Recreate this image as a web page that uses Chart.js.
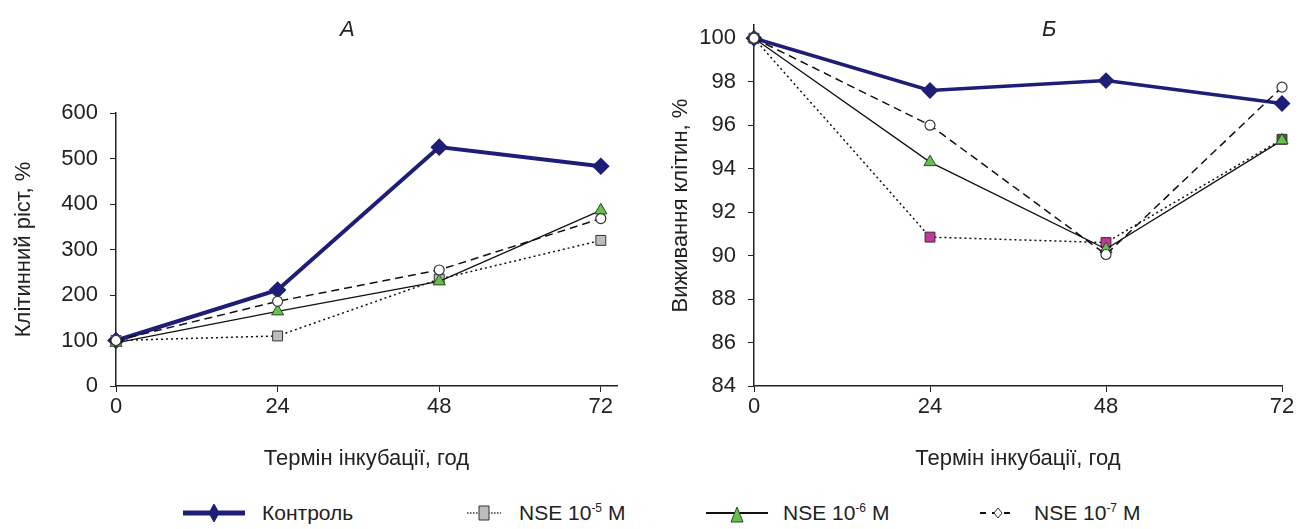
<!DOCTYPE html>
<html lang="uk">
<head>
<meta charset="utf-8">
<title>Клітинний ріст і виживання клітин</title>
<script src="https://cdn.jsdelivr.net/npm/chart.js@4.4.1/dist/chart.umd.min.js"></script>
<style>
  html, body { margin: 0; padding: 0; background: #fff; }
  body { width: 1299px; height: 529px; position: relative; overflow: hidden;
         font-family: "Liberation Sans", Arial, sans-serif; color: #222; }
  .panel { position: absolute; top: 0; height: 480px; }
  #boxA { left: 0; width: 640px; }
  #boxB { left: 640px; width: 659px; }
  .letter { position: absolute; top: 16px; font-size: 22px; font-style: italic; line-height: 26px; }
  .item { position: absolute; top: 500px; height: 26px; font-size: 21px; line-height: 26px; white-space: nowrap; }
  .item canvas { position: absolute; top: 0; }
  .item span { position: absolute; top: 0; }
  sup { font-size: 12px; vertical-align: 8px; line-height: 0; }
</style>
</head>
<body>
<div class="panel" id="boxA"><canvas id="chartA"></canvas></div>
<div class="panel" id="boxB"><canvas id="chartB"></canvas></div>
<div class="letter" style="left:340px">А</div>
<div class="letter" style="left:1042px">Б</div>

<div class="item" style="left:183px"><canvas id="lg0" width="62" height="26"></canvas><span style="left:79px">Контроль</span></div>
<div class="item" style="left:467px"><canvas id="lg1" width="34" height="26"></canvas><span style="left:52px">NSE 10<sup>-5</sup> M</span></div>
<div class="item" style="left:706px"><canvas id="lg2" width="62" height="26"></canvas><span style="left:77px">NSE 10<sup>-6</sup> M</span></div>
<div class="item" style="left:980px"><canvas id="lg3" width="36" height="26"></canvas><span style="left:54px">NSE 10<sup>-7</sup> M</span></div>

<script>
// години інкубації
const hours = [0, 24, 48, 72];
const seriesNames = ['Контроль', 'NSE 10-5 M', 'NSE 10-6 M', 'NSE 10-7 M'];

// А - клітинний ріст, %
const growthControl = [100, 211, 525, 483];
const growthNse5 = [100, 110, 235, 320];
const growthNse6 = [95, 164, 230, 386];
const growthNse7 = [100, 186, 255, 368];

// Б - виживання клітин, %
const survControl = [100, 97.6, 98.05, 97.0];
const survNse5 = [100, 90.85, 90.6, 95.35];
const survNse6 = [100, 94.3, 90.3, 95.3];
const survNse7 = [100, 96.0, 90.05, 97.75];

const growthTicks = [0, 100, 200, 300, 400, 500, 600];
const survTicks = [84, 86, 88, 90, 92, 94, 96, 98, 100];

const NAVY = '#1e1e78';
const INK = '#222';

function pts(vals) {
    return hours.map((h, i) => ({ x: h, y: vals[i] }));
}

// Chart.js малює перший набір зверху: відкриті кружки зверху, контроль знизу
function lineSets(ctrl, n5, n6, n7, sqColor, ctrlWidth) {
    return [
        { label: seriesNames[3], data: pts(n7), borderColor: '#111', borderWidth: 1.5, borderDash: [8, 5],
          pointStyle: 'circle', pointRadius: 5, pointBackgroundColor: '#fff', pointBorderColor: '#333', pointBorderWidth: 1.2 },
        { label: seriesNames[2], data: pts(n6), borderColor: '#111', borderWidth: 1.3,
          pointStyle: 'triangle', pointRadius: 7, pointBackgroundColor: '#66bf4e', pointBorderColor: '#2c4a22', pointBorderWidth: 1 },
        { label: seriesNames[1], data: pts(n5), borderColor: '#111', borderWidth: 1.5, borderDash: [2, 3],
          pointStyle: 'rect', pointRadius: 7, pointBackgroundColor: sqColor, pointBorderColor: '#333', pointBorderWidth: 1 },
        { label: seriesNames[0], data: pts(ctrl), borderColor: NAVY, borderWidth: ctrlWidth,
          pointStyle: 'rectRot', pointRadius: 6, pointBackgroundColor: NAVY, pointBorderColor: NAVY }
    ];
}

const tickFont = { family: '"Liberation Sans", Arial, sans-serif', size: 22 };
const titleFont = { family: '"Liberation Sans", Arial, sans-serif', size: 22 };

function makeChart(id, sets, o) {
    return new Chart(document.getElementById(id), {
        type: 'line',
        data: { datasets: sets },
        options: {
            responsive: true,
            maintainAspectRatio: false,
            animation: false,
            layout: { padding: { top: o.padTop, right: o.padRight, left: 0, bottom: 0 } },
            elements: { line: { tension: 0 } },
            datasets: { line: { clip: false } },
            plugins: { legend: { display: false }, tooltip: { enabled: false } },
            scales: {
                x: {
                    type: 'linear', min: 0, max: o.xMax,
                    afterBuildTicks: s => { s.ticks = hours.map(v => ({ value: v })); },
                    afterFit: s => { s.height = 94; },
                    grid: { drawOnChartArea: false, drawTicks: true, tickLength: 6, color: INK },
                    border: { display: true, color: INK, width: 1.5 },
                    ticks: { color: INK, font: tickFont, padding: 2, maxRotation: 0 },
                    title: { display: true, text: 'Термін інкубації, год', color: INK, font: titleFont,
                             padding: { top: 4, bottom: 8 } }
                },
                y: {
                    min: o.yMin, max: o.yMax,
                    afterBuildTicks: s => { s.ticks = o.yTicks.map(v => ({ value: v })); },
                    afterFit: s => { s.width = o.yWidth; },
                    grid: { drawOnChartArea: false, drawTicks: true, tickLength: 6, color: INK },
                    border: { display: true, color: INK, width: 1.5 },
                    ticks: { color: INK, font: tickFont, padding: 12 },
                    title: { display: true, text: o.yTitle, color: INK, font: titleFont,
                             padding: { top: o.yTitlePad, bottom: 0 } }
                }
            }
        }
    });
}

makeChart('chartA', lineSets(growthControl, growthNse5, growthNse6, growthNse7, '#bdbdbd', 4), {
    padTop: 113, padRight: 23, xMax: 74.4, yMin: 0, yMax: 600, yWidth: 116, yTitlePad: 11,
    yTicks: growthTicks, yTitle: 'Клітинний ріст, %'
});

makeChart('chartB', lineSets(survControl, survNse5, survNse6, survNse7,
    ['#c2379b', '#c2379b', '#c2379b', '#5e5236'], 3.5), {
    padTop: 22, padRight: 17, xMax: 72, yMin: 84, yMax: 100.6, yWidth: 114, yTitlePad: 28,
    yTicks: survTicks, yTitle: 'Виживання клітин, %'
});

// легенда
function legendIcon(id, line, width, dash, marker) {
    const c = document.getElementById(id);
    const ctx = c.getContext('2d');
    const w = c.width, cy = c.height / 2, cx = w / 2;
    ctx.strokeStyle = line;
    ctx.lineWidth = width;
    ctx.setLineDash(dash);
    ctx.beginPath(); ctx.moveTo(0, cy); ctx.lineTo(w, cy); ctx.stroke();
    ctx.setLineDash([]);
    ctx.fillStyle = marker.fill;
    ctx.strokeStyle = marker.stroke;
    ctx.lineWidth = 1;
    ctx.beginPath();
    if (marker.type === 'diamond') {
        ctx.moveTo(cx, cy - 9); ctx.lineTo(cx + 5, cy); ctx.lineTo(cx, cy + 9); ctx.lineTo(cx - 5, cy); ctx.closePath();
    } else if (marker.type === 'rect') {
        ctx.rect(cx - 5, cy - 7, 10, 14);
    } else if (marker.type === 'triangle') {
        ctx.moveTo(cx, cy - 6); ctx.lineTo(cx + 6, cy + 9); ctx.lineTo(cx - 6, cy + 9); ctx.closePath();
    } else {
        ctx.moveTo(cx, cy - 5); ctx.lineTo(cx + 4, cy); ctx.lineTo(cx, cy + 5); ctx.lineTo(cx - 4, cy); ctx.closePath();
    }
    ctx.fill();
    ctx.stroke();
}

legendIcon('lg0', NAVY, 5, [], { type: 'diamond', fill: NAVY, stroke: NAVY });
legendIcon('lg1', '#333', 1.5, [1.5, 1.5], { type: 'rect', fill: '#bdbdbd', stroke: '#333' });
legendIcon('lg2', '#111', 2, [], { type: 'triangle', fill: '#66bf4e', stroke: '#2c4a22' });
legendIcon('lg3', '#111', 2, [6, 6], { type: 'open', fill: '#fff', stroke: '#333' });
</script>
</body>
</html>
